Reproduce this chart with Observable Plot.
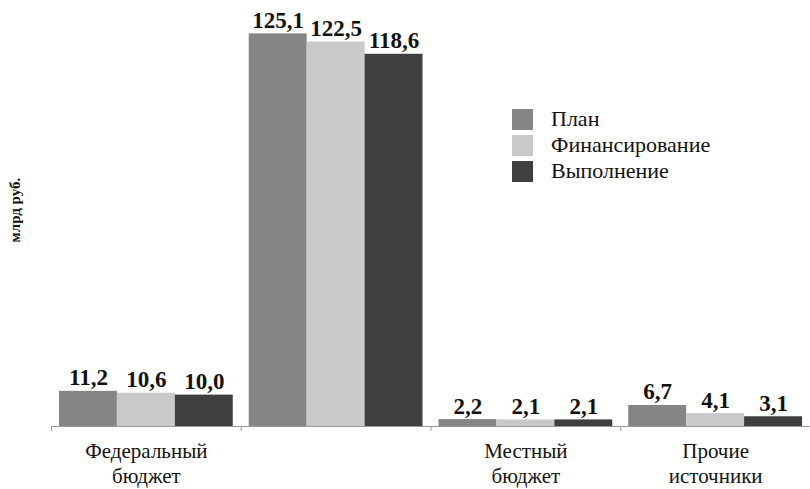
<!DOCTYPE html>
<html>
<head>
<meta charset="utf-8">
<script src="https://cdn.jsdelivr.net/npm/d3@7"></script>
<script src="https://cdn.jsdelivr.net/npm/@observablehq/plot@0.6"></script>
<style>
  html, body { margin: 0; padding: 0; background: #fff; }
  #wrap { position: relative; width: 810px; height: 489px; overflow: hidden; }
  #legend { position: absolute; left: 512px; top: 106px; }
  .lg-swatch { padding-bottom: 0 !important; }
  .lg-swatch > svg { margin-right: 18px !important; }
</style>
</head>
<body>
<div id="wrap"><div id="chart"></div><div id="legend"></div></div>
<script>
const groups = ["Федеральный\nбюджет", "", "Местный\nбюджет", "Прочие\nисточники"];
const series = ["План", "Финансирование", "Выполнение"];
const plan = [11.2, 125.1, 2.2, 6.7];
const financing = [10.6, 122.5, 2.1, 4.1];
const execution = [10.0, 118.6, 2.1, 3.1];
const colors = ["#858585", "#c9c9c9", "#3f3f3f"];
const yLabel = "млрд руб.";

const serif = "Liberation Serif, DejaVu Serif, serif";
const values = [plan, financing, execution];
const pad = 8 / 190, w = 58 / 190;
const rows = [];
groups.forEach((g, gi) => {
  series.forEach((s, si) => {
    const x1 = gi + pad + si * w;
    rows.push({group: g, series: s, value: values[si][gi], x1, x2: x1 + w, xm: x1 + w / 2});
  });
});
const fmt = v => v.toFixed(1).replace(".", ",");

const chart = Plot.plot({
  width: 810,
  height: 489,
  marginLeft: 51,
  marginRight: 0,
  marginTop: 18,
  marginBottom: 63,
  style: {fontFamily: serif, fontSize: "21px", color: "#111"},
  x: {type: "linear", domain: [0, groups.length], axis: null, label: null},
  y: {type: "linear", domain: [0, 130], axis: null, label: null},
  color: {domain: series, range: colors},
  marks: [
    Plot.rect(rows, {x1: "x1", x2: "x2", y1: () => 0, y2: "value", fill: "series"}),
    Plot.ruleY([0], {stroke: "#9a9a9a", strokeWidth: 1.2}),
    Plot.axisX({ticks: d3.range(groups.length + 1), tickSize: 5, tickFormat: () => "", stroke: "#9a9a9a", label: null}),
    Plot.axisX({ticks: groups.map((g, i) => i + 0.5), tickSize: 0, tickPadding: 14, label: null,
      tickFormat: (d) => groups[Math.floor(d)], lineHeight: 1.18, fill: "#111", fontFamily: serif}),
    Plot.text(rows, {x: "xm", y: "value", text: d => fmt(d.value),
      lineAnchor: "bottom", dy: -6, fontWeight: "bold", fontSize: 23, fill: "#111", fontFamily: serif}),
    Plot.text([yLabel], {frameAnchor: "left", rotate: -90, dx: -36, dy: 20,
      fontWeight: "bold", fontSize: 15, fill: "#111", fontFamily: serif})
  ]
});
document.getElementById("chart").appendChild(chart);

const legend = Plot.legend({
  color: {domain: series, range: colors, type: "ordinal"},
  legend: "swatches",
  columns: 1,
  swatchSize: 21,
  className: "lg",
  style: {fontFamily: serif, fontSize: "22px", color: "#111"}
});
document.getElementById("legend").appendChild(legend);
</script>
</body>
</html>
